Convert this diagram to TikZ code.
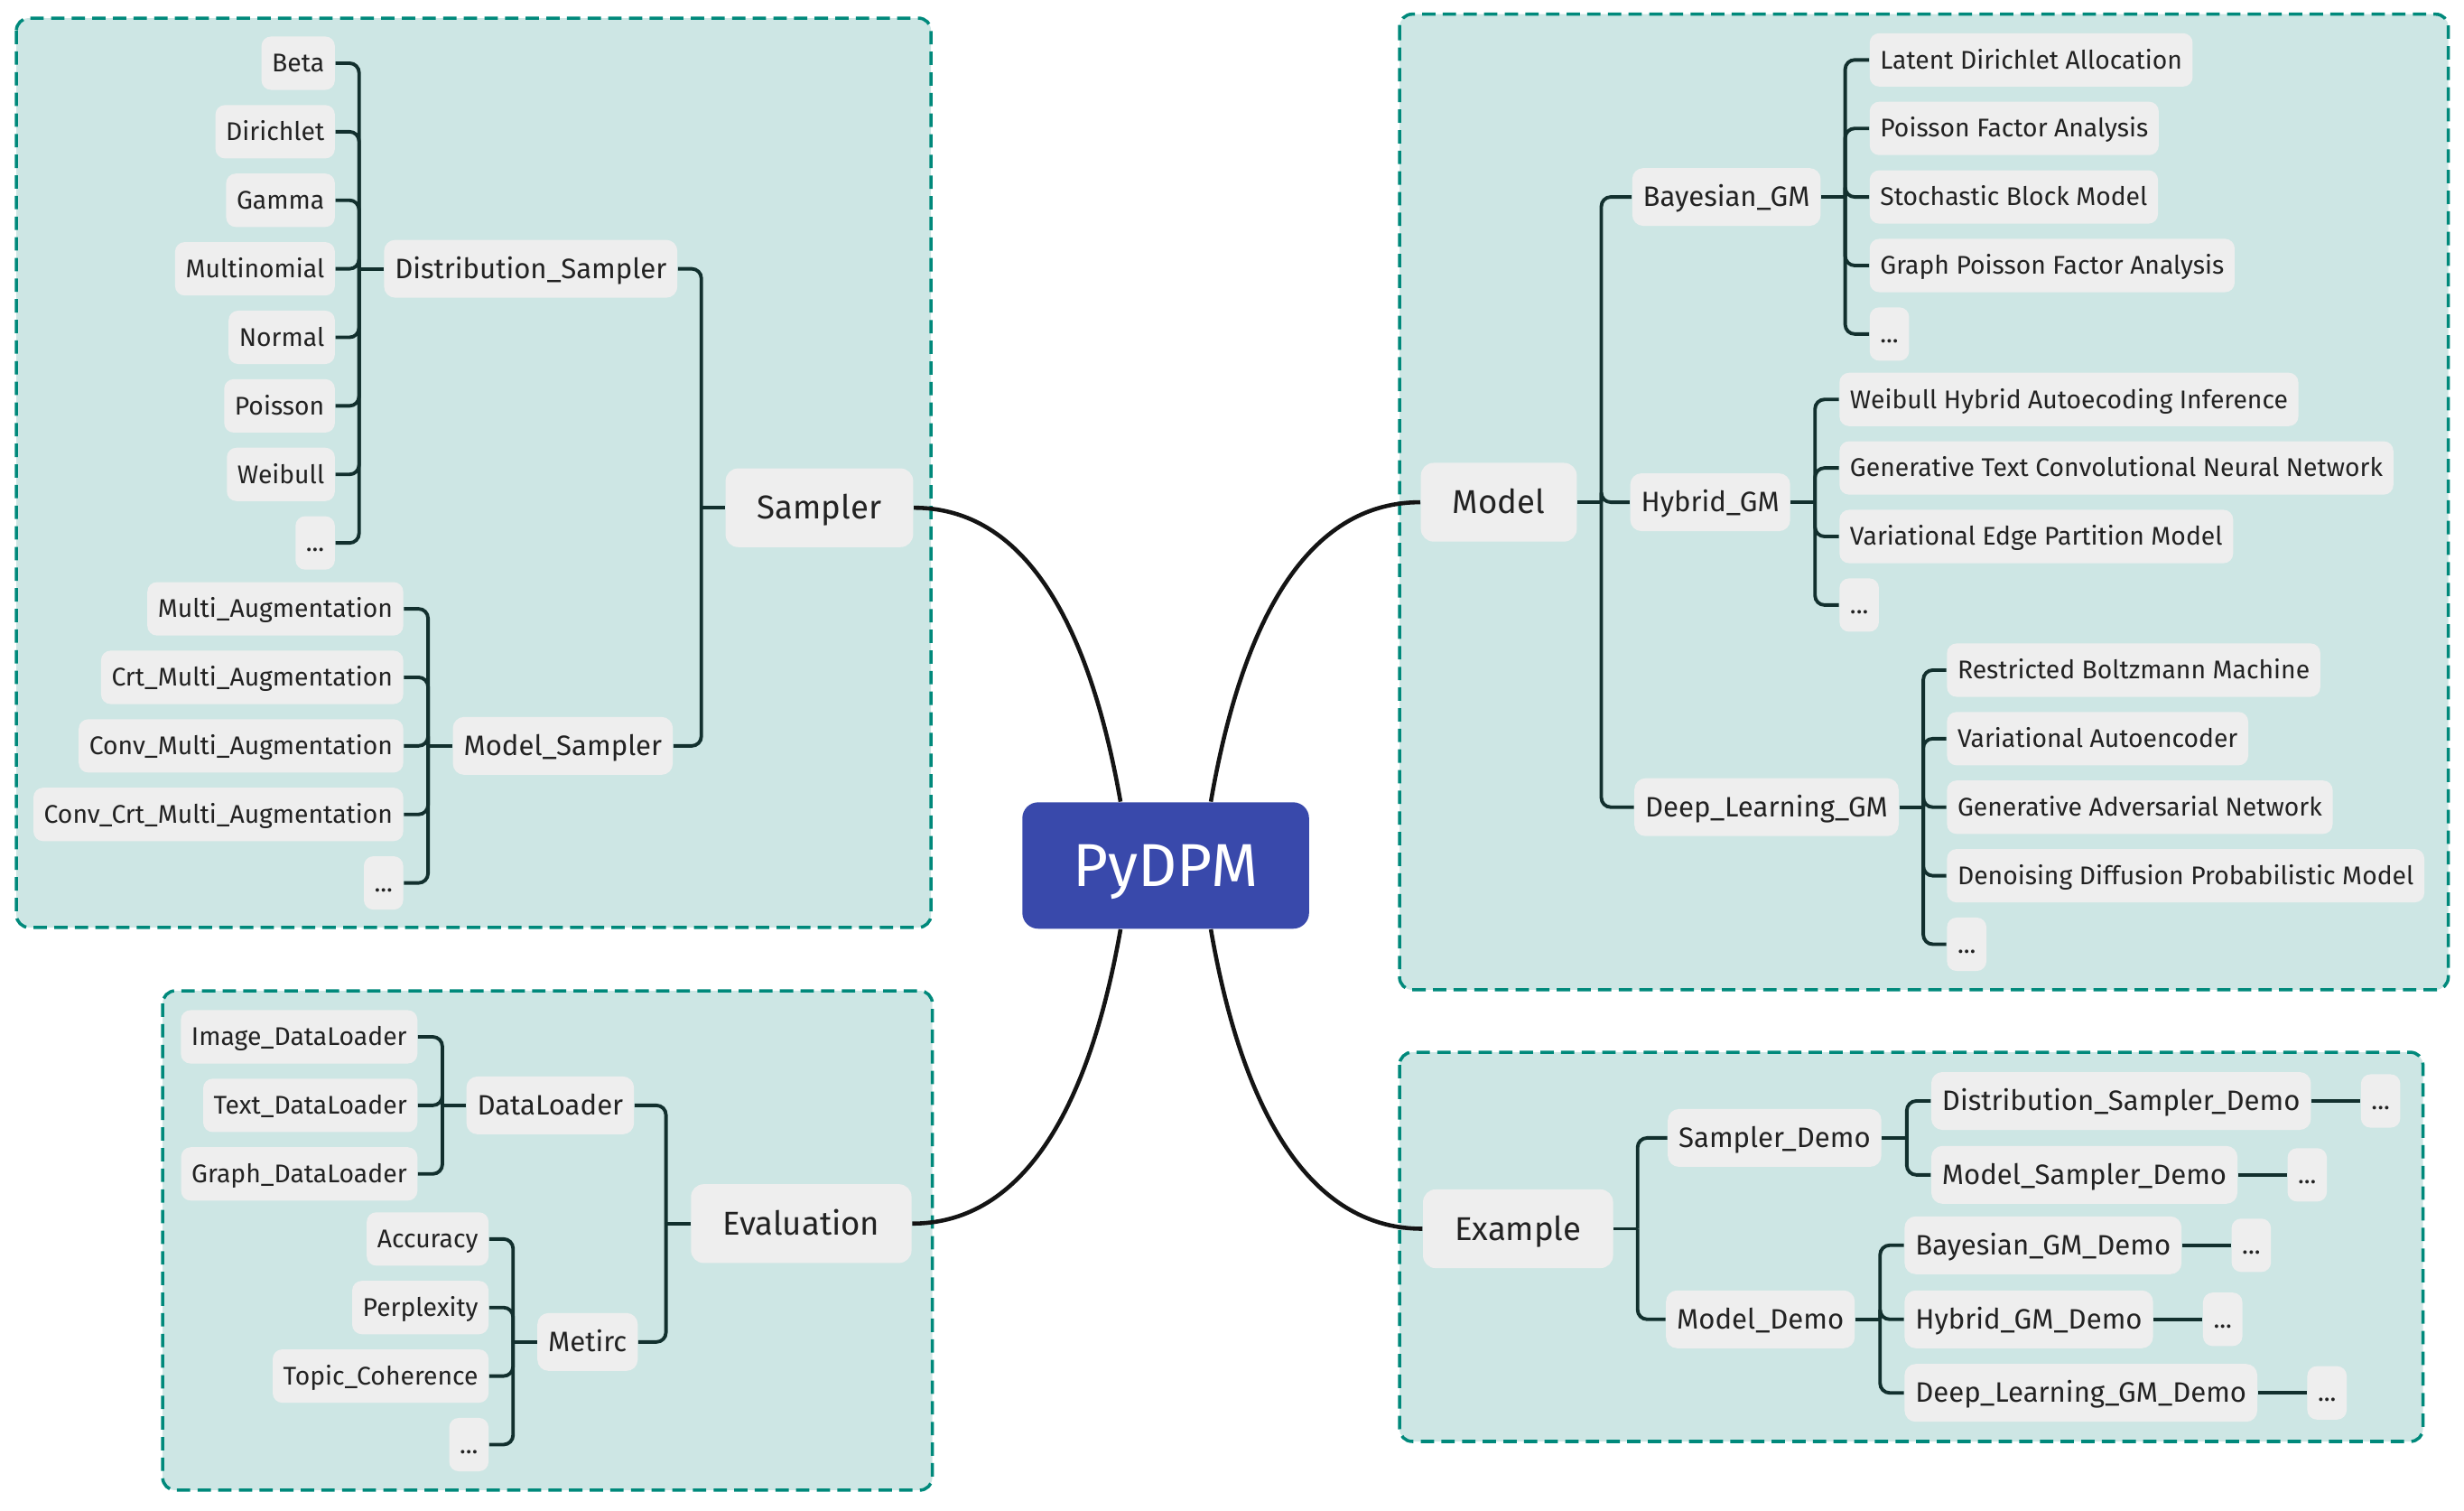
\documentclass[tikz,border=0pt]{standalone}
\usepackage{fontspec}
\setmainfont{Fira Sans}
\usepackage{tikz}
\usetikzlibrary{positioning}
\definecolor{groupfill}{HTML}{CDE6E4}
\definecolor{groupline}{HTML}{00897B}
\definecolor{nodefill}{HTML}{EEEEEE}
\definecolor{rootfill}{HTML}{3949AB}
\definecolor{linkcol}{HTML}{12302E}
\definecolor{inkcol}{HTML}{222222}
\tikzstyle{group} = [draw=groupline, fill=groupfill, line width=1pt, dash pattern=on 4.2pt off 2.3pt, rounded corners=4pt]
\tikzstyle{leaf} = [rectangle, rounded corners=3pt, fill=nodefill, text=inkcol, inner xsep=3.3pt, inner ysep=0pt, minimum height=16.8pt, text height=5.55pt, text depth=0pt, font=\fontsize{8.05}{10}\selectfont]
\tikzstyle{branch} = [rectangle, rounded corners=3.5pt, fill=nodefill, text=inkcol, inner xsep=3.4pt, inner ysep=0pt, minimum height=18.2pt, text height=6.1pt, text depth=0pt, font=\fontsize{8.85}{11}\selectfont]
\tikzstyle{topic} = [rectangle, rounded corners=4pt, fill=nodefill, text=inkcol, inner xsep=10pt, inner ysep=0pt, minimum height=24.8pt, text height=7.2pt, text depth=0pt, font=\fontsize{10.4}{13}\selectfont]
\tikzstyle{root} = [rectangle, rounded corners=5pt, fill=rootfill, text=white, minimum width=90.3pt, minimum height=39.8pt, text height=13.1pt, text depth=0pt, font=\fontsize{19.1}{22}\selectfont]
\tikzstyle{link} = [draw=linkcol, line width=1.1pt, rounded corners=3pt]
\tikzstyle{trunk} = [draw=black!92, line width=1.3pt]

\begin{document}
\begin{tikzpicture}[x=0.0174cm, y=-0.0174cm]
	\useasboundingbox (0,0) rectangle (1568,960.7);
	% group frames
	\draw [group] (10.4,11.5) rectangle (592.5,590);
	\draw [group] (890.6,9) rectangle (1558,629.7);
	\draw [group] (103.5,630.3) rectangle (593.3,948);
	\draw [group] (890.6,669.4) rectangle (1541.9,917);

	\node (root) [root] at (741.8,550.6) {PyDPM};

	% Sampler
	\node (sampler) [topic, anchor=west] at (461.3,323) {Sampler};
	\node (dsamp) [branch, anchor=west] at (244,171) {Distribution\_Sampler};
	\node (msamp) [branch, anchor=west] at (287.8,474.5) {Model\_Sampler};
	\node (beta) [leaf, anchor=east] at (213.5,40.2) {Beta};
	\node (dirichlet) [leaf, anchor=east] at (213.5,83.8) {Dirichlet};
	\node (gamma) [leaf, anchor=east] at (213.5,127.4) {Gamma};
	\node (multinom) [leaf, anchor=east] at (213.5,171) {Multinomial};
	\node (normal) [leaf, anchor=east] at (213.5,214.6) {Normal};
	\node (poisson) [leaf, anchor=east] at (213.5,258.2) {Poisson};
	\node (weibull) [leaf, anchor=east] at (213.5,301.8) {Weibull};
	\node (dsmore) [leaf, anchor=east] at (213.5,345.4) {...};
	\node (maug) [leaf, anchor=east] at (257,387.3) {Multi\_Augmentation};
	\node (cmaug) [leaf, anchor=east] at (257,430.9) {Crt\_Multi\_Augmentation};
	\node (cvmaug) [leaf, anchor=east] at (257,474.5) {Conv\_Multi\_Augmentation};
	\node (cvcmaug) [leaf, anchor=east] at (257,518.1) {Conv\_Crt\_Multi\_Augmentation};
	\node (msmore) [leaf, anchor=east] at (257,561.7) {...};

	% Evaluation
	\node (eval) [topic, anchor=west] at (439.3,778.4) {Evaluation};
	\node (dload) [branch, anchor=west] at (296.4,703.2) {DataLoader};
	\node (metric) [branch, anchor=west] at (341.6,853.7) {Metirc};
	\node (imgdl) [leaf, anchor=east] at (266,659.6) {Image\_DataLoader};
	\node (txtdl) [leaf, anchor=east] at (266,703.2) {Text\_DataLoader};
	\node (grdl) [leaf, anchor=east] at (266,746.8) {Graph\_DataLoader};
	\node (acc) [leaf, anchor=east] at (311.3,788.2) {Accuracy};
	\node (ppl) [leaf, anchor=east] at (311.3,831.8) {Perplexity};
	\node (tc) [leaf, anchor=east] at (311.3,875.4) {Topic\_Coherence};
	\node (mtmore) [leaf, anchor=east] at (311.3,919) {...};

	% Model
	\node (model) [topic, anchor=east] at (1003.8,319.5) {Model};
	\node (bgm) [branch, anchor=east] at (1159,125.3) {Bayesian\_GM};
	\node (hgm) [branch, anchor=east] at (1139.6,319.5) {Hybrid\_GM};
	\node (dgm) [branch, anchor=east] at (1208.6,513.5) {Deep\_Learning\_GM};
	\node (lda) [leaf, anchor=west] at (1189.4,38.1) {Latent Dirichlet Allocation};
	\node (pfa) [leaf, anchor=west] at (1189.4,81.7) {Poisson Factor Analysis};
	\node (sbm) [leaf, anchor=west] at (1189.4,125.3) {Stochastic Block Model};
	\node (gpfa) [leaf, anchor=west] at (1189.4,168.9) {Graph Poisson Factor Analysis};
	\node (bgmore) [leaf, anchor=west] at (1189.4,212.5) {...};
	\node (whai) [leaf, anchor=west] at (1170.2,254.1) {Weibull Hybrid Autoecoding Inference};
	\node (gtcnn) [leaf, anchor=west] at (1170.2,297.7) {Generative Text Convolutional Neural Network};
	\node (vepm) [leaf, anchor=west] at (1170.2,341.3) {Variational Edge Partition Model};
	\node (hgmore) [leaf, anchor=west] at (1170.2,384.9) {...};
	\node (rbm) [leaf, anchor=west] at (1238.6,426.3) {Restricted Boltzmann Machine};
	\node (vae) [leaf, anchor=west] at (1238.6,469.9) {Variational Autoencoder};
	\node (gan) [leaf, anchor=west] at (1238.6,513.5) {Generative Adversarial Network};
	\node (ddpm) [leaf, anchor=west] at (1238.6,557.1) {Denoising Diffusion Probabilistic Model};
	\node (dgmore) [leaf, anchor=west] at (1238.6,600.7) {...};

	% Example
	\node (example) [topic, anchor=east] at (1026.9,781.7) {Example};
	\node (sdemo) [branch, anchor=east] at (1197.6,723.9) {Sampler\_Demo};
	\node (mdemo) [branch, anchor=east] at (1180.7,839.3) {Model\_Demo};
	\node (dsdemo) [branch, anchor=west] at (1228.6,700.4) {Distribution\_Sampler\_Demo};
	\node (msdemo) [branch, anchor=west] at (1228.6,747.4) {Model\_Sampler\_Demo};
	\node (bgdemo) [branch, anchor=west] at (1211.6,792.2) {Bayesian\_GM\_Demo};
	\node (hgdemo) [branch, anchor=west] at (1211.6,839.3) {Hybrid\_GM\_Demo};
	\node (dgdemo) [branch, anchor=west] at (1211.6,886.1) {Deep\_Learning\_GM\_Demo};
	\node (dsdmore) [leaf, right=0.54cm of dsdemo] {...};
	\node (msdmore) [leaf, right=0.54cm of msdemo] {...};
	\node (bgdmore) [leaf, right=0.54cm of bgdemo] {...};
	\node (hgdmore) [leaf, right=0.54cm of hgdemo] {...};
	\node (dgdmore) [leaf, right=0.54cm of dgdemo] {...};

	% main branches
	\draw [trunk] (sampler.east) .. controls +(65,0) and +(-22,-125) .. ([xshift=-0.5cm]root.north);
	\draw [trunk] (eval.east) .. controls +(65,0) and +(-22,125) .. ([xshift=-0.5cm]root.south);
	\draw [trunk] (model.west) .. controls +(-66,0) and +(22,-127) .. ([xshift=0.5cm]root.north);
	\draw [trunk] (example.west) .. controls +(-66,0) and +(22,127) .. ([xshift=0.5cm]root.south);

	% Sampler links
	\draw [link] (sampler.west) -- ++(-15,0) coordinate (sj);
	\draw [link] (sj) |- (dsamp.east);
	\draw [link] (sj) |- (msamp.east);
	\draw [link] (dsamp.west) -- ++(-15.5,0) coordinate (dsj);
	\draw [link] (dsj) |- (beta.east);
	\draw [link] (dsj) |- (dirichlet.east);
	\draw [link] (dsj) |- (gamma.east);
	\draw [link] (dsj) |- (multinom.east);
	\draw [link] (dsj) |- (normal.east);
	\draw [link] (dsj) |- (poisson.east);
	\draw [link] (dsj) |- (weibull.east);
	\draw [link] (dsj) |- (dsmore.east);
	\draw [link] (msamp.west) -- ++(-15.4,0) coordinate (msj);
	\draw [link] (msj) |- (maug.east);
	\draw [link] (msj) |- (cmaug.east);
	\draw [link] (msj) |- (cvmaug.east);
	\draw [link] (msj) |- (cvcmaug.east);
	\draw [link] (msj) |- (msmore.east);

	% Evaluation links
	\draw [link] (eval.west) -- ++(-15.5,0) coordinate (ej);
	\draw [link] (ej) |- (dload.east);
	\draw [link] (ej) |- (metric.east);
	\draw [link] (dload.west) -- ++(-14.9,0) coordinate (dlj);
	\draw [link] (dlj) |- (imgdl.east);
	\draw [link] (dlj) |- (txtdl.east);
	\draw [link] (dlj) |- (grdl.east);
	\draw [link] (metric.west) -- ++(-15.1,0) coordinate (mtj);
	\draw [link] (mtj) |- (acc.east);
	\draw [link] (mtj) |- (ppl.east);
	\draw [link] (mtj) |- (tc.east);
	\draw [link] (mtj) |- (mtmore.east);

	% Model links
	\draw [link] (model.east) -- ++(15.2,0) coordinate (mj);
	\draw [link] (mj) |- (bgm.west);
	\draw [link] (mj) |- (hgm.west);
	\draw [link] (mj) |- (dgm.west);
	\draw [link] (bgm.east) -- ++(15.2,0) coordinate (bj);
	\draw [link] (bj) |- (lda.west);
	\draw [link] (bj) |- (pfa.west);
	\draw [link] (bj) |- (sbm.west);
	\draw [link] (bj) |- (gpfa.west);
	\draw [link] (bj) |- (bgmore.west);
	\draw [link] (hgm.east) -- ++(15.4,0) coordinate (hj);
	\draw [link] (hj) |- (whai.west);
	\draw [link] (hj) |- (gtcnn.west);
	\draw [link] (hj) |- (vepm.west);
	\draw [link] (hj) |- (hgmore.west);
	\draw [link] (dgm.east) -- ++(15.3,0) coordinate (dj);
	\draw [link] (dj) |- (rbm.west);
	\draw [link] (dj) |- (vae.west);
	\draw [link] (dj) |- (gan.west);
	\draw [link] (dj) |- (ddpm.west);
	\draw [link] (dj) |- (dgmore.west);

	% Example links
	\draw [link] (example.east) -- ++(15.2,0) coordinate (xj);
	\draw [link] (xj) |- (sdemo.west);
	\draw [link] (xj) |- (mdemo.west);
	\draw [link] (sdemo.east) -- ++(15.8,0) coordinate (sdj);
	\draw [link] (sdj) |- (dsdemo.west);
	\draw [link] (sdj) |- (msdemo.west);
	\draw [link] (mdemo.east) -- ++(15.7,0) coordinate (mdj);
	\draw [link] (mdj) |- (bgdemo.west);
	\draw [link] (mdj) |- (hgdemo.west);
	\draw [link] (mdj) |- (dgdemo.west);
	\draw [link] (dsdemo) -- (dsdmore);
	\draw [link] (msdemo) -- (msdmore);
	\draw [link] (bgdemo) -- (bgdmore);
	\draw [link] (hgdemo) -- (hgdmore);
	\draw [link] (dgdemo) -- (dgdmore);
\end{tikzpicture}
\end{document}
